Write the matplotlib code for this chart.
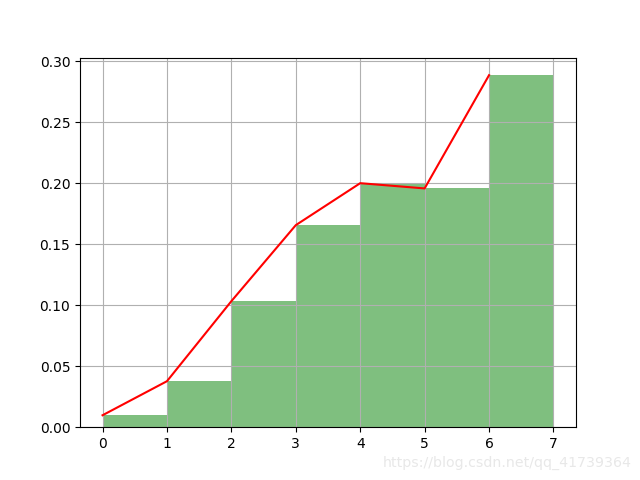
import numpy as np
import matplotlib
matplotlib.use("Agg")
import matplotlib.pyplot as plt

# bin edges and density heights
edges = [0, 1, 2, 3, 4, 5, 6, 7]
heights = [0.0098, 0.0377, 0.1033, 0.1656, 0.2000, 0.1957, 0.2885]

fig, ax = plt.subplots(figsize=(6.4, 4.8), dpi=100)
ax.hist(edges[:-1], bins=edges, weights=heights, color='g', alpha=0.5)
ax.plot(edges[:-1], heights, 'r')
ax.grid(True)
ax.set_xticks(edges)

fig.text(0.987, 0.036, "https://blog.csdn.net/qq_41739364", ha='right', va='center',
         fontsize=10.2, color='#e8e8e8')

plt.savefig("out.png")
